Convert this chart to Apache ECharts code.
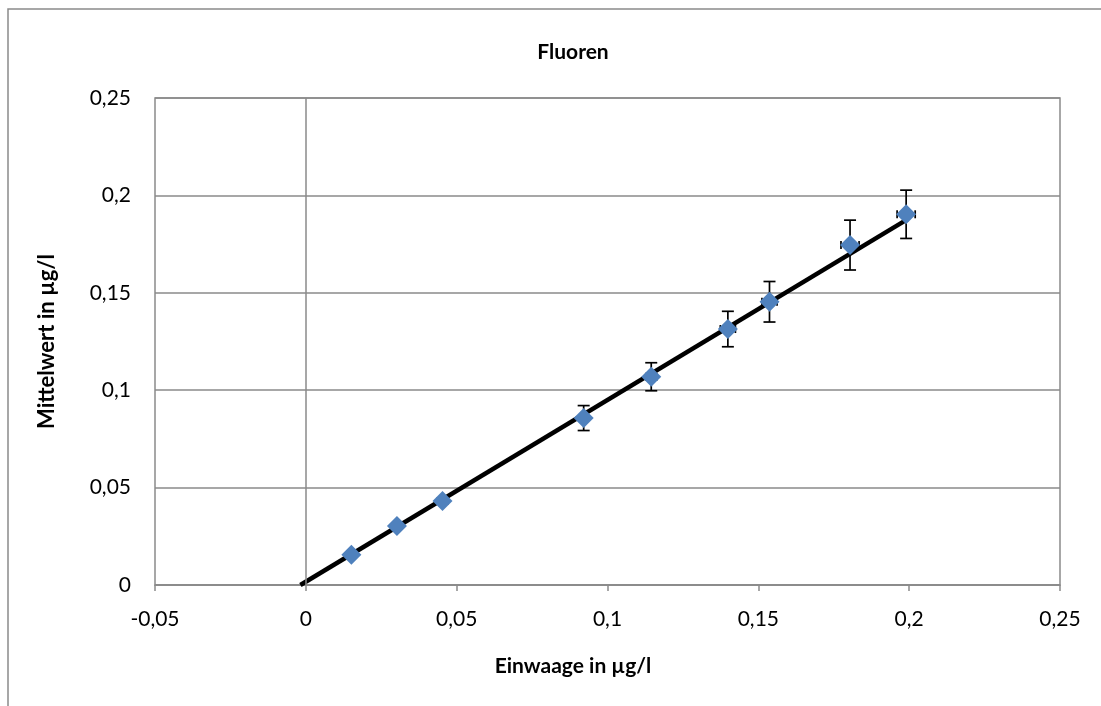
<!DOCTYPE html>
<html>
<head>
<meta charset="utf-8">
<script src="https://cdn.jsdelivr.net/npm/echarts@6/dist/echarts.min.js"></script>
<style>
html,body{margin:0;padding:0;background:#fff;}
#chart{width:1101px;height:706px;}
</style>
</head>
<body>
<div id="chart"></div>
<script>
const titleText = 'Fluoren';
const xAxisName = 'Einwaage in µg/l';
const yAxisName = 'Mittelwert in µg/l';
const xValues = [0.0151, 0.0302, 0.0453, 0.0921, 0.1145, 0.1399, 0.1537, 0.1804, 0.1990];
const yValues = [0.0155, 0.0303, 0.0431, 0.0857, 0.1069, 0.1314, 0.1454, 0.1745, 0.1903];
const yErrors = [0.0010, 0.0012, 0.0015, 0.0064, 0.0072, 0.0091, 0.0104, 0.0128, 0.0124];
const xErrors = [0.0008, 0.0010, 0.0012, 0.0015, 0.0018, 0.0025, 0.0025, 0.0030, 0.0030];
const trendX = [-0.0018, 0.1995];
const trendY = [0, 0.1878];

const fmt = v => String(+(+v).toFixed(2)).replace('.', ',');
const FONT = 'Lato, "Open Sans", sans-serif';
const GRAY = '#8a8a8a';

const points = xValues.map((x, i) => [x, yValues[i]]);
const errData = xValues.map((x, i) => [x, yValues[i], xErrors[i], yErrors[i]]);
const trendData = trendX.map((x, i) => [x, trendY[i]]);

const chart = echarts.init(document.getElementById('chart'), null, {renderer: 'canvas'});
chart.setOption({
  animation: false,
  backgroundColor: '#ffffff',
  graphic: [{
    type: 'rect', left: 5.5, top: 6.5, silent: true,
    shape: {width: 1200, height: 900},
    style: {fill: 'none', stroke: GRAY, lineWidth: 1.5}
  }],
  title: [{
    text: titleText, left: 568, top: 37, textAlign: 'center',
    textStyle: {fontFamily: FONT, fontWeight: 'bold', fontSize: 21, color: '#000'}
  }, {
    text: xAxisName, left: 568, top: 651, textAlign: 'center',
    textStyle: {fontFamily: FONT, fontWeight: 'bold', fontSize: 21, color: '#000'}
  }],
  grid: {left: 155, right: 41, top: 98, bottom: 121, show: true, borderColor: GRAY, borderWidth: 1.5, containLabel: false},
  xAxis: {
    type: 'value', min: -0.05, max: 0.25, interval: 0.05,
    axisLine: {show: true, onZero: false, lineStyle: {color: GRAY, width: 1.5}},
    axisTick: {show: true, inside: false, length: 6, lineStyle: {color: GRAY, width: 1.5}},
    axisLabel: {formatter: fmt, fontFamily: FONT, fontSize: 21, color: '#000', margin: 24},
    splitLine: {show: false}
  },
  yAxis: {
    type: 'value', min: 0, max: 0.25, interval: 0.05,
    name: yAxisName, nameLocation: 'middle', nameGap: 97, nameRotate: 90,
    nameTextStyle: {fontFamily: FONT, fontWeight: 'bold', fontSize: 22, color: '#000'},
    axisLine: {show: false},
    axisTick: {show: false},
    axisLabel: {formatter: fmt, fontFamily: FONT, fontSize: 21, color: '#000', margin: 24},
    splitLine: {show: true, lineStyle: {color: GRAY, width: 1.5}}
  },
  series: [
    {
      type: 'line', data: trendData, symbol: 'none', z: 3,
      lineStyle: {color: '#000', width: 4.5},
      markLine: {
        silent: true, symbol: 'none', label: {show: false},
        lineStyle: {color: GRAY, width: 1.5, type: 'solid'},
        data: [{xAxis: 0}]
      }
    },
    {
      type: 'custom', z: 4, data: errData,
      renderItem: function (params, api) {
        const x = api.value(0), y = api.value(1), ex = api.value(2), ey = api.value(3);
        const top = api.coord([x, y + ey]);
        const bot = api.coord([x, y - ey]);
        const left = api.coord([x - ex, y]);
        const right = api.coord([x + ex, y]);
        const cap = 6, hcap = 4;
        const st = {stroke: '#000', lineWidth: 1.7};
        return {
          type: 'group',
          children: [
            {type: 'line', shape: {x1: top[0], y1: top[1], x2: bot[0], y2: bot[1]}, style: st},
            {type: 'line', shape: {x1: top[0] - cap, y1: top[1], x2: top[0] + cap, y2: top[1]}, style: st},
            {type: 'line', shape: {x1: bot[0] - cap, y1: bot[1], x2: bot[0] + cap, y2: bot[1]}, style: st},
            {type: 'line', shape: {x1: left[0], y1: left[1], x2: right[0], y2: right[1]}, style: st},
            {type: 'line', shape: {x1: left[0], y1: left[1] - hcap, x2: left[0], y2: left[1] + hcap}, style: st},
            {type: 'line', shape: {x1: right[0], y1: right[1] - hcap, x2: right[0], y2: right[1] + hcap}, style: st}
          ]
        };
      }
    },
    {
      type: 'scatter', data: points, z: 5,
      symbol: 'diamond', symbolSize: [20, 20],
      itemStyle: {color: '#4f81bd', opacity: 1}
    }
  ]
});
</script>
</body>
</html>
